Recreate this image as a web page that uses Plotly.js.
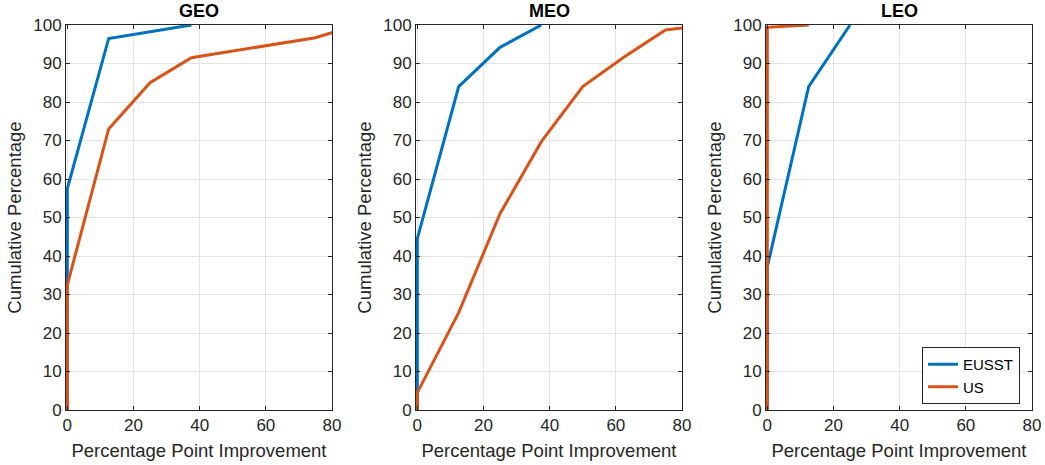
<!DOCTYPE html>
<html>
<head>
<meta charset="utf-8">
<script src="https://cdn.plot.ly/plotly-3.0.1.min.js"></script>
<style>html,body{margin:0;padding:0;background:#fff;}#chart{width:1045px;height:465px;}</style>
</head>
<body>
<div id="chart"></div>
<script>
// ---- data ----
const panels = ["GEO", "MEO", "LEO"];
const seriesNames = ["EUSST", "US"];

const geoEusstX = [0, 0, 12.5, 37.5];
const geoEusstY = [0, 57.5, 96.5, 100];
const geoUsX = [0, 0, 12.5, 25, 37.5, 75, 87.5];
const geoUsY = [0, 32.5, 73, 85, 91.5, 96.7, 100];

const meoEusstX = [0, 0, 12.5, 25, 37.5];
const meoEusstY = [0, 44.5, 84, 94.2, 100];
const meoUsX = [0, 0, 12.5, 25, 37.5, 50, 62.5, 75, 87.5];
const meoUsY = [0, 4.5, 25.3, 51, 69.7, 84, 91.7, 98.7, 100];

const leoEusstX = [0, 0, 12.5, 25];
const leoEusstY = [0, 37.2, 84, 100];
const leoUsX = [0, 0, 12.5];
const leoUsY = [0, 99.4, 100];

const xTicks = [0, 20, 40, 60, 80];
const yTicks = [0, 10, 20, 30, 40, 50, 60, 70, 80, 90, 100];

// ---- styling ----
const colors = ["#0072BD", "#D95319"];
const W = 1045, H = 465;
const xDom = [[66, 332], [416, 682], [766, 1032]];
const yDom = [1 - 410 / H, 1 - 25 / H];
const font = "Liberation Sans, Arial, sans-serif";
const ink = "#262626";

const data = [
  [geoEusstX, geoEusstY, geoUsX, geoUsY],
  [meoEusstX, meoEusstY, meoUsX, meoUsY],
  [leoEusstX, leoEusstY, leoUsX, leoUsY]
];

const traces = [];
data.forEach((d, i) => {
  const sfx = i === 0 ? "" : String(i + 1);
  for (let s = 0; s < 2; s++) {
    traces.push({
      type: "scatter", mode: "lines",
      x: d[2 * s], y: d[2 * s + 1],
      name: seriesNames[s],
      xaxis: "x" + sfx, yaxis: "y" + sfx,
      line: {color: colors[s], width: 3},
      showlegend: i === 2,
      hoverinfo: "x+y"
    });
  }
});

const layout = {
  width: W, height: H,
  margin: {l: 0, r: 0, t: 0, b: 0},
  paper_bgcolor: "#fff", plot_bgcolor: "#fff",
  font: {family: font, size: 17, color: ink},
  showlegend: true,
  legend: {
    x: 1020 / W, y: 1 - 347 / H, xanchor: "right", yanchor: "top",
    bgcolor: "#fff", bordercolor: ink, borderwidth: 1,
    font: {family: font, size: 15, color: "#000"},
    tracegroupgap: 0
  },
  annotations: []
};

panels.forEach((p, i) => {
  const sfx = i === 0 ? "" : String(i + 1);
  layout["xaxis" + sfx] = {
    domain: [xDom[i][0] / W, xDom[i][1] / W],
    anchor: "y" + sfx,
    range: [-0.4, 80],
    tickvals: xTicks, ticktext: xTicks.map(String),
    ticks: "inside", ticklen: 4, tickcolor: ink, tickwidth: 1,
    showline: true, linecolor: ink, linewidth: 1, mirror: "ticks",
    showgrid: true, gridcolor: "#e3e3e3", gridwidth: 1,
    zeroline: false,
    tickfont: {family: font, size: 17, color: ink},
    title: {text: "Percentage Point Improvement", font: {family: font, size: 18.5, color: ink}, standoff: 9}
  };
  layout["yaxis" + sfx] = {
    domain: yDom,
    anchor: "x" + sfx,
    range: [0, 100],
    tickvals: yTicks, ticktext: yTicks.map(String),
    ticks: "inside", ticklen: 4, tickcolor: ink, tickwidth: 1,
    showline: true, linecolor: ink, linewidth: 1, mirror: "ticks",
    showgrid: true, gridcolor: "#e3e3e3", gridwidth: 1,
    zeroline: false,
    tickfont: {family: font, size: 17, color: ink},
    title: {text: "Cumulative Percentage", font: {family: font, size: 18.5, color: ink}, standoff: 6}
  };
  layout.annotations.push({
    text: "<b>" + p + "</b>",
    xref: "paper", yref: "paper",
    x: (xDom[i][0] + xDom[i][1]) / 2 / W, y: 1 - 11 / H,
    xanchor: "center", yanchor: "middle",
    showarrow: false,
    font: {family: font, size: 18, color: "#000"}
  });
});

Plotly.newPlot("chart", traces, layout, {displayModeBar: false, staticPlot: true});
</script>
</body>
</html>
